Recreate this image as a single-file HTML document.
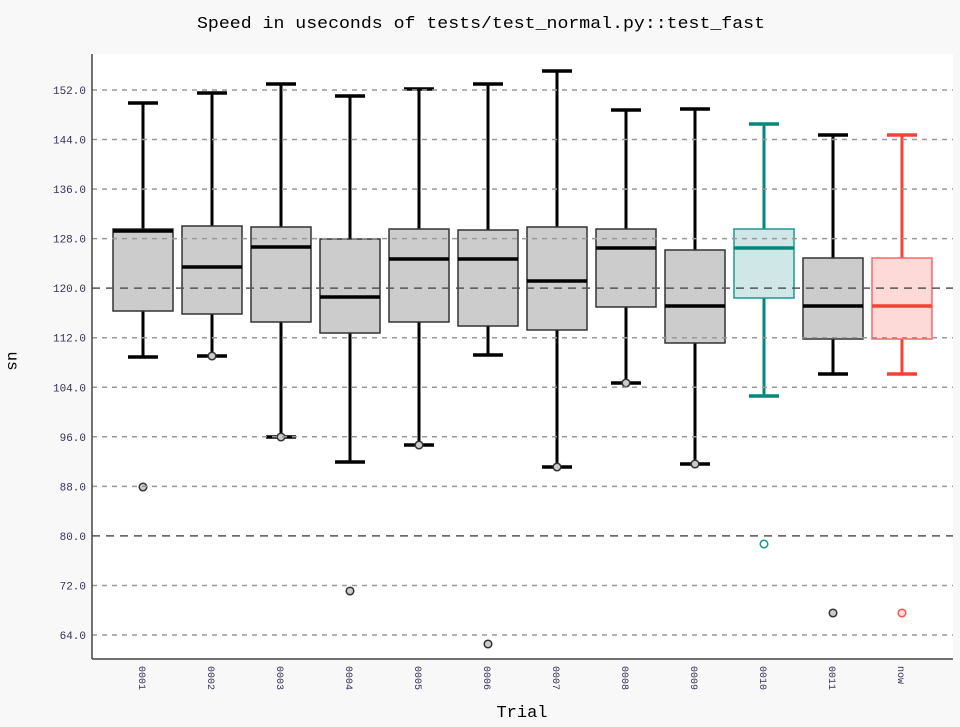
<!DOCTYPE html>
<html><head><meta charset="utf-8"><style>
html,body{margin:0;padding:0;background:#f8f8f8;}
svg{display:block;font-family:"Liberation Mono","DejaVu Sans Mono",monospace;}
</style></head><body>
<svg width="960" height="727" viewBox="0 0 960 727" xmlns="http://www.w3.org/2000/svg">
<rect width="960" height="727" fill="#f8f8f8"/>
<rect x="92" y="54" width="861" height="605" fill="#fff"/>
<text x="481" y="28" font-size="17" text-anchor="middle" fill="#000" textLength="568" lengthAdjust="spacingAndGlyphs">Speed in useconds of tests/test_normal.py::test_fast</text>
<g id="boxes"></g>
<g id="grid"></g>
<line x1="92" y1="54" x2="92" y2="659" stroke="#444" stroke-width="1.5"/>
<line x1="92" y1="659" x2="953" y2="659" stroke="#444" stroke-width="1.5"/>
<g id="ticks" font-size="11" fill="#335"></g>
<text transform="translate(8,361) rotate(90)" font-size="16" text-anchor="middle" fill="#000">us</text>
<text x="522" y="717" font-size="17" text-anchor="middle" fill="#000">Trial</text>
</svg>
<script>
var NS="http://www.w3.org/2000/svg";
function el(p,t,a,txt){var e=document.createElementNS(NS,t);for(var k in a)e.setAttribute(k,a[k]);if(txt)e.textContent=txt;p.appendChild(e);return e;}
var grid=document.getElementById('grid'),ticks=document.getElementById('ticks'),boxes=document.getElementById('boxes');
for(var v=152;v>=64;v-=8){var y=90+(152-v)*6.193;var dark=(v==80||v==120);
el(grid,'line',{x1:92,x2:953,y1:y,y2:y,stroke:dark?'#555':'#999','stroke-width':1.5,'stroke-dasharray':dark?'8,6':'5,5'});
el(ticks,'text',{x:86,y:y+4,'text-anchor':'end'},v.toFixed(1));}
var D=[
['0001',103,357,229,311,231,[487],[]],
['0002',93,356,226,314,267,[],[356]],
['0003',84,437,227,322,247,[],[437]],
['0004',96,462,239,333,297,[591],[]],
['0005',89,445,229,322,259,[],[445]],
['0006',84,355,230,326,259,[644],[]],
['0007',71,467,227,330,281,[],[467]],
['0008',110,383,229,307,248,[],[383]],
['0009',109,464,250,343,306,[],[464]],
['0010',124,396,229,298,248,[544],[]],
['0011',135,374,258,339,306,[613],[]],
['now',135,374,258,339,306,[613],[]]];
D.forEach(function(d,i){var c=143+i*69;var col='#000',fill='#ccc',bs='#333',of='#ccc',os='#333';
if(d[0]=='0010'){col='#00897b';fill='#cfe8e7';bs='#1a9a8c';of='#fff';os='#1a9a8c';}
if(d[0]=='now'){col='#f44336';fill='#fdd9d8';bs='#f66';of='#fdd';os='#f55';}
el(boxes,'line',{x1:c,x2:c,y1:d[1],y2:d[2],stroke:col,'stroke-width':3});
el(boxes,'line',{x1:c-15,x2:c+15,y1:d[1],y2:d[1],stroke:col,'stroke-width':3.5});
el(boxes,'line',{x1:c-15,x2:c+15,y1:d[2],y2:d[2],stroke:col,'stroke-width':3.5});
el(boxes,'rect',{x:c-30,y:d[3],width:60,height:d[4]-d[3],fill:fill,stroke:bs,'stroke-width':1.5});
el(boxes,'line',{x1:c-30,x2:c+30,y1:d[5],y2:d[5],stroke:col,'stroke-width':3.5});
d[6].concat(d[7]).forEach(function(y){el(boxes,'circle',{cx:c,cy:y,r:3.8,fill:of,stroke:os,'stroke-width':1.5});});
el(ticks,'text',{transform:'translate('+(c-4)+',666) rotate(90)','font-size':10,fill:'#335'},d[0]);
});
</script>
</body></html>
